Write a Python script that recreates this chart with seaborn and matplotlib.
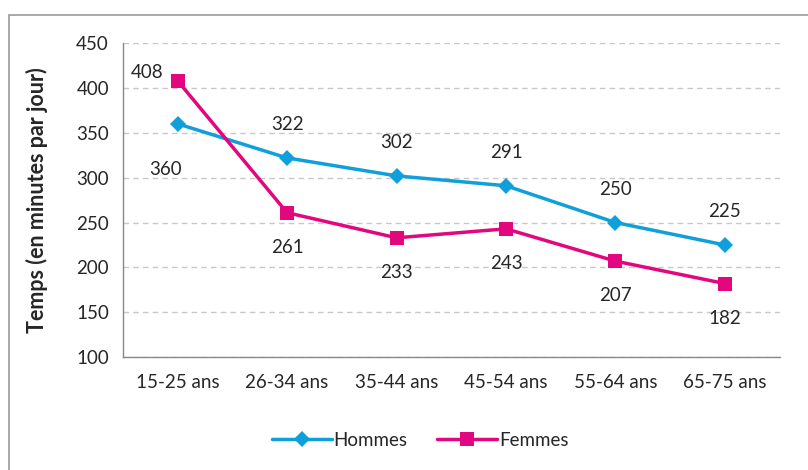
import matplotlib
matplotlib.use("Agg")
import matplotlib.pyplot as plt
import seaborn as sns
import pandas as pd
from matplotlib.patches import Rectangle

categories = ["15-25 ans", "26-34 ans", "35-44 ans", "45-54 ans", "55-64 ans", "65-75 ans"]
hommes = [360, 322, 302, 291, 250, 225]
femmes = [408, 261, 233, 243, 207, 182]
yticks = [100, 150, 200, 250, 300, 350, 400, 450]

sns.set_theme(style="white")
plt.rcParams['font.family'] = ['Lato', 'DejaVu Sans']

df = pd.DataFrame({
    "age": categories * 2,
    "temps": hommes + femmes,
    "sexe": ["Hommes"] * len(hommes) + ["Femmes"] * len(femmes),
})

blue = "#0FA0DB"
pink = "#E2077E"
fs = 13.5

fig = plt.figure(figsize=(8.08, 4.70), dpi=100)
ax = fig.add_axes([0.152, 0.240, 0.813, 0.6685])

sns.lineplot(data=df, x="age", y="temps", hue="sexe", style="sexe",
             palette={"Hommes": blue, "Femmes": pink},
             markers={"Hommes": "D", "Femmes": "s"},
             dashes=False, linewidth=2.5, markersize=9, markeredgewidth=0,
             sort=False, ax=ax, legend=True)

for line in ax.get_lines():
    if line.get_marker() == "s":
        line.set_markersize(10)
    elif line.get_marker() == "D":
        line.set_markersize(8)

ax.set_xlim(-0.5, 5.5)
ax.set_ylim(100, 450)
ax.set_yticks(yticks)
ax.set_xticks(range(len(categories)))
ax.set_xticklabels(categories)
ax.set_xticks([i - 0.5 for i in range(len(categories) + 1)], minor=True)
ax.tick_params(axis="x", which="major", length=0, labelsize=fs, pad=12)
ax.tick_params(axis="x", which="minor", length=6, color="#888888", width=1, direction="out")
ax.tick_params(axis="y", length=6, color="#888888", width=1, labelsize=fs, pad=4, direction="out")
ax.yaxis.grid(True, linestyle=(0, (4, 3)), color="#c8c8c8", linewidth=1)
ax.set_axisbelow(True)
for s in ["top", "right"]:
    ax.spines[s].set_visible(False)
for s in ["left", "bottom"]:
    ax.spines[s].set_color("#888888")
    ax.spines[s].set_linewidth(1)
ax.set_xlabel("")
ax.set_ylabel("Temps (en minutes par jour)", fontsize=15.5, fontweight="bold", labelpad=20)

for i, v in enumerate(hommes):
    if i == 0:
        ax.annotate(str(v), (i, v), xytext=(-9, -33), textcoords="offset points",
                    ha="center", va="center", fontsize=fs)
    else:
        ax.annotate(str(v), (i, v), xytext=(0, 24), textcoords="offset points",
                    ha="center", va="center", fontsize=fs)
for i, v in enumerate(femmes):
    if i == 0:
        ax.annotate(str(v), (i, v), xytext=(-22, 0), textcoords="offset points",
                    ha="center", va="bottom", fontsize=fs)
    else:
        ax.annotate(str(v), (i, v), xytext=(0, -25), textcoords="offset points",
                    ha="center", va="center", fontsize=fs)

handles, labels = ax.get_legend_handles_labels()
ax.legend(handles, labels, loc="center", bbox_to_anchor=(0.52, 0.063),
          bbox_transform=fig.transFigure, ncol=2, frameon=False, fontsize=fs,
          handlelength=3.2, handletextpad=0.1, columnspacing=1.6)

fig.patches.append(Rectangle((9 / 808, -0.05), 1.2, 1 - 15 / 470 + 0.05,
                             transform=fig.transFigure, fill=False,
                             edgecolor="#999999", linewidth=1.2))

fig.savefig("out.png", dpi=100, facecolor="white")
